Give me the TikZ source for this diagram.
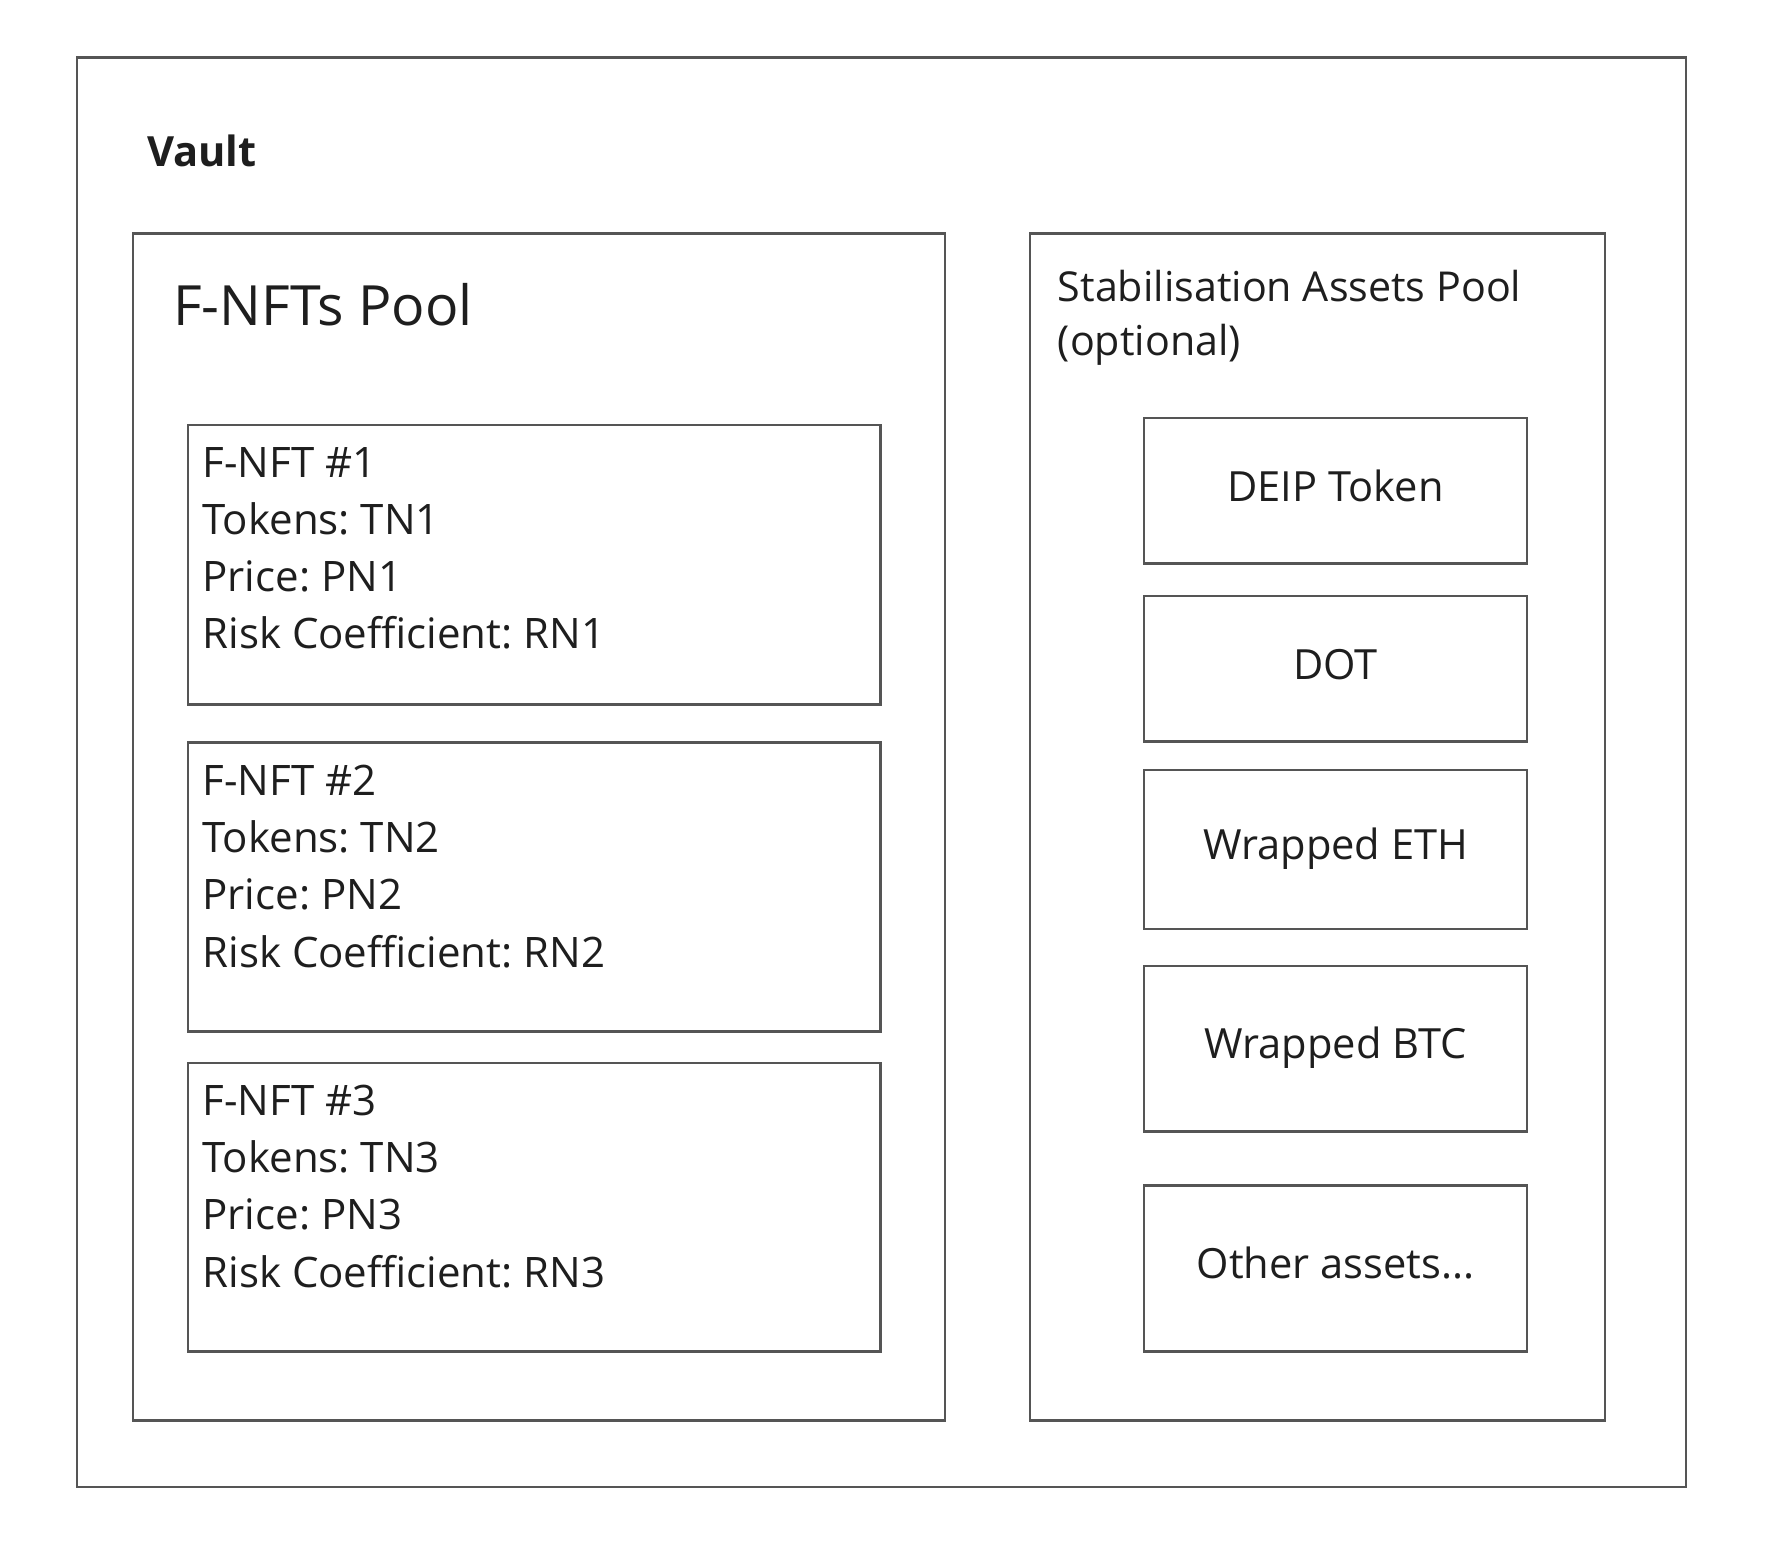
\documentclass[tikz,border=0pt]{standalone}
\usepackage{fontspec}
\setmainfont{Open Sans}
\frenchspacing
\usetikzlibrary{positioning}
\definecolor{linegray}{HTML}{555555}
\definecolor{inkdark}{HTML}{1E1E1E}
\tikzset{
    every node/.style={inner sep=0pt, text=inkdark}
}
\tikzset{
    frame/.style={draw=linegray, line width=0.6pt, anchor=north west},
    asset/.style={frame, minimum width=3.4cm, text height=0.76em, text depth=0.24em,
    	font=\fontsize{10.5}{13}\selectfont},
    nftbox/.style={frame, minimum width=6.14cm},
    info/.style={align=left, anchor=north west,
    	font=\fontsize{10.6}{14.46}\selectfont}
}

\begin{document}
\begin{tikzpicture}[x=0.01cm, y=-0.01cm]
  \useasboundingbox (0,0) rectangle (1568,1383);
  \node[frame, minimum width=14.27cm, minimum height=12.68cm] (vault) at (67,50) {};
  \node[anchor=base west, font=\bfseries\fontsize{10.5}{12}\selectfont] (vaulttitle) at (130,148) {Vault};

  \node[frame, minimum width=7.2cm, minimum height=10.53cm] (nftpool) at (117,206) {};
  \node[anchor=base west, font=\fontsize{14}{16}\selectfont] (nftpooltitle) at (153,289) {F-NFTs Pool};

  \node[nftbox, minimum height=2.48cm] (nft1) at (166,376) {};
  \node[nftbox, minimum height=2.56cm] (nft2) at (166,658) {};
  \node[nftbox, minimum height=2.56cm] (nft3) at (166,942) {};
  \node[info, below right=0.2cm and 0.13cm of nft1.north west] (nft1info)
  	{F-NFT \#1\\Tokens: TN1\\Price: PN1\\Risk Coefficient: RN1};
  \node[info, below right=0.2cm and 0.13cm of nft2.north west] (nft2info)
  	{F-NFT \#2\\Tokens: TN2\\Price: PN2\\Risk Coefficient: RN2};
  \node[info, below right=0.2cm and 0.13cm of nft3.north west] (nft3info)
  	{F-NFT \#3\\Tokens: TN3\\Price: PN3\\Risk Coefficient: RN3};

  \node[frame, minimum width=5.1cm, minimum height=10.53cm] (stabpool) at (913,206) {};
  \node[info, below right=0.33cm and 0.25cm of stabpool.north west,
  	font=\fontsize{10.4}{13.6}\selectfont] (stabpooltitle)
  	{Stabilisation Assets Pool\\(optional)};

  \node[asset, minimum height=1.29cm] (deip) at (1014,370) {DEIP Token};
  \node[asset, minimum height=1.29cm] (dot) at (1014,528) {DOT};
  \node[asset, minimum height=1.41cm] (weth) at (1014,682) {Wrapped ETH};
  \node[asset, minimum height=1.47cm] (wbtc) at (1014,856) {Wrapped BTC};
  \node[asset, minimum height=1.47cm] (other) at (1014,1051) {Other assets...};
\end{tikzpicture}
\end{document}
